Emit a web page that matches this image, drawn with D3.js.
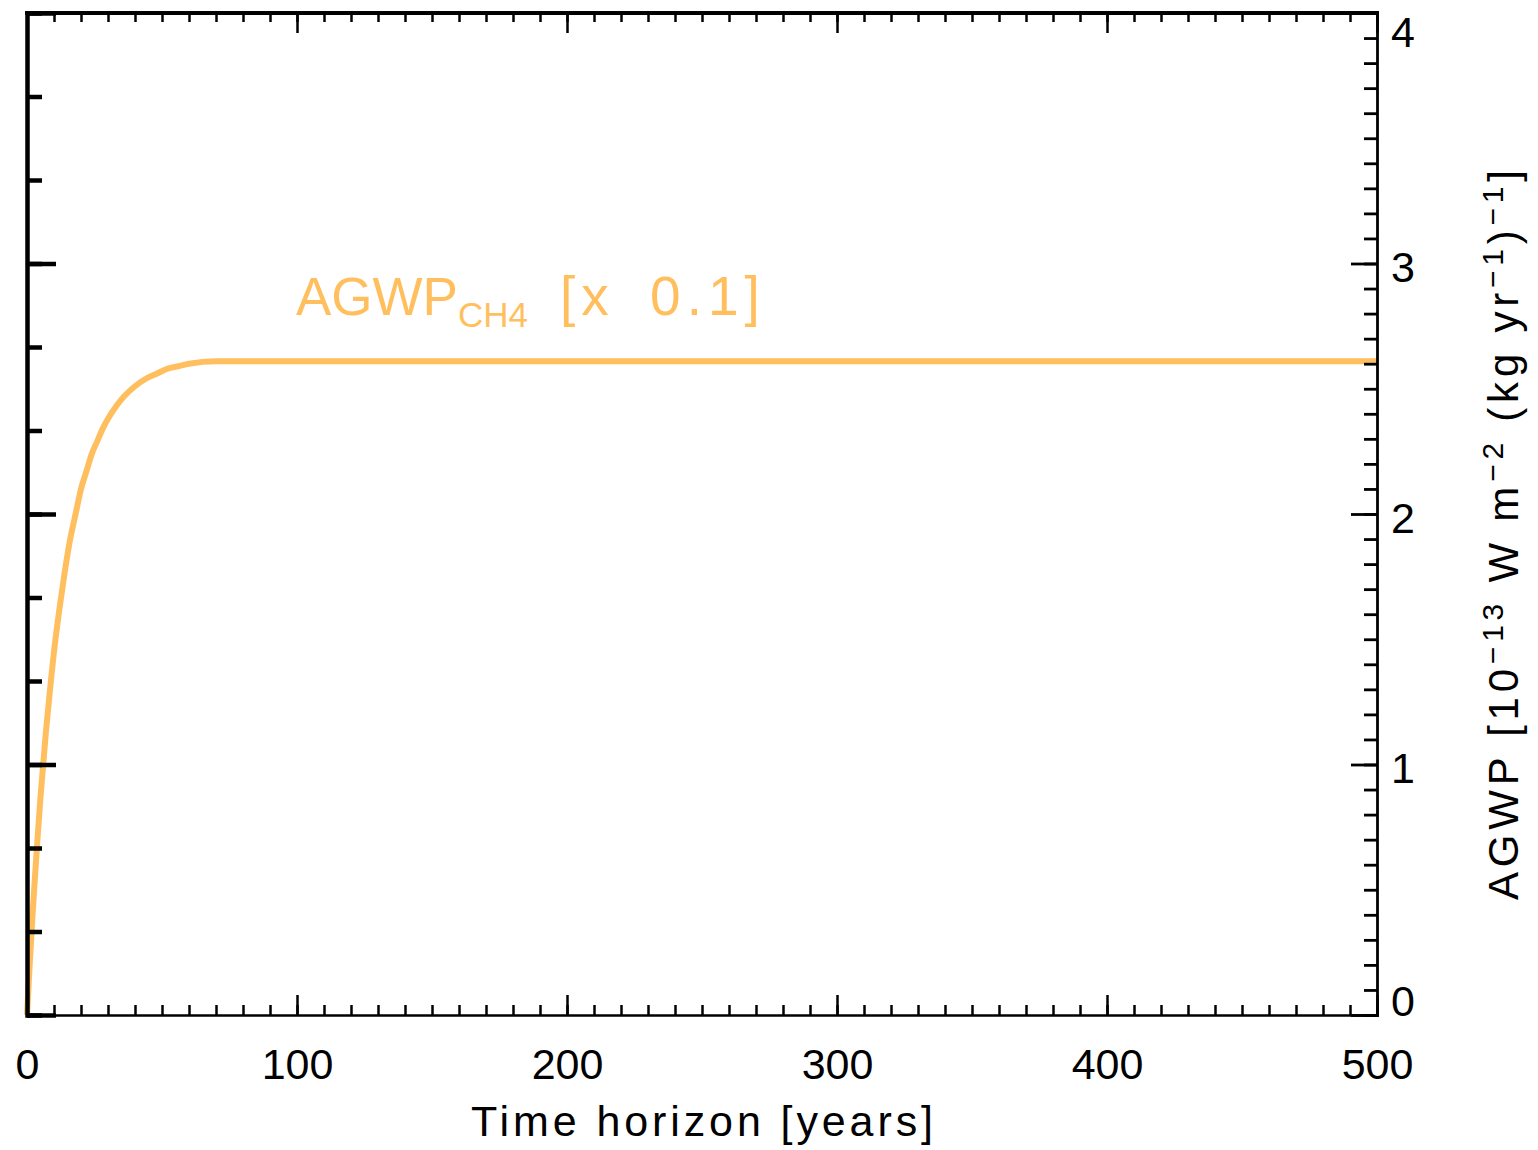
<!DOCTYPE html>
<html>
<head>
<meta charset="utf-8">
<script src="https://cdn.jsdelivr.net/npm/d3@7"></script>
<style>
    body { margin: 0; background: #ffffff; }
    .graph text { font-family: "Liberation Sans", Arial, sans-serif; }
</style>
</head>
<body>
<div class="graph"></div>
<script>
// Values: AGWP of CH4 (shown x 0.1) against time horizon
const years   = [0, 1, 2, 3, 4, 5, 6, 7, 8, 9, 10, 12, 14, 16, 18, 20, 22, 24, 26, 28,
                 30, 33, 36, 40, 44, 48, 52, 56, 60, 70, 80, 100, 200, 300, 400, 500];
const agwpCH4 = [0, 0.20, 0.39, 0.56, 0.72, 0.87, 1.00, 1.13, 1.24, 1.35, 1.45, 1.62, 1.77, 1.90, 2.00, 2.10, 2.17, 2.24, 2.29, 2.34,
                 2.38, 2.43, 2.47, 2.51, 2.54, 2.56, 2.58, 2.59, 2.60, 2.61, 2.61, 2.61, 2.61, 2.61, 2.61, 2.61];

// Axis ticks
const xMajorTicks = [0, 100, 200, 300, 400, 500];
const xMinorTicks = d3.range(0, 501, 10);
const yMajorTicks = [0, 1, 2, 3, 4];
const yRightMinorTicks = d3.range(0, 41).map(d => d / 10);
const yLeftMinorTicks = d3.range(0, 13).map(d => d / 3);

const data = years.map((y, i) => ({year: y, value: agwpCH4[i]}));

function createAgwpGraph(data) {
    // The dimensions of the graph
    const dimensions = {
        width: 1538,
        height: 1150,
        margins: {
            top: 13,
            right: 161,
            bottom: 135,
            left: 27
        }
    };
    dimensions.boundedWidth = dimensions.width
        - dimensions.margins.left
        - dimensions.margins.right;
    dimensions.boundedHeight = dimensions.height
        - dimensions.margins.top
        - dimensions.margins.bottom;

    const orange = "#ffbf5e";

    function xAccessor(d) {
        return d.year;
    }

    function yAccessor(d) {
        return d.value;
    }

    const wrapper = d3.select(".graph")
        .append("svg")
            .attr("width", dimensions.width)
            .attr("height", dimensions.height);

    const bounds = wrapper.append("g")
            .attr("transform", `translate(${dimensions.margins.left},${dimensions.margins.top})`);

    const xScale = d3.scaleLinear()
        .domain([0, 500])
        .range([0, dimensions.boundedWidth]);

    const yScale = d3.scaleLinear()
        .domain([0, 4])
        .range([dimensions.boundedHeight, 0]);

    // Draws data
    const lineGenerator = d3.line()
        .x(d => xScale(xAccessor(d)))
        .y(d => yScale(yAccessor(d)))
        .curve(d3.curveMonotoneX);

    bounds.append("path")
        .attr("d", lineGenerator(data))
        .attr("fill", "none")
        .attr("stroke", orange)
        .attr("stroke-width", 6);

    // Helper that draws one set of ticks and styles it
    function drawAxis(generator, transform, width, keepDomain) {
        const g = bounds.append("g")
            .attr("transform", transform)
            .call(generator);
        g.selectAll("line").attr("stroke", "#000").attr("stroke-width", width);
        g.select(".domain")
            .attr("stroke", "#000")
            .attr("stroke-width", width)
            .attr("stroke-linecap", "square")
            .style("display", keepDomain ? null : "none");
        return g;
    }

    const H = dimensions.boundedHeight;
    const W = dimensions.boundedWidth;

    // Bottom axis (thin, labelled)
    drawAxis(d3.axisBottom(xScale).tickValues(xMinorTicks).tickSizeInner(-10).tickSizeOuter(0).tickFormat(""),
        `translate(0,${H})`, 2.5, true);
    const xAxis = drawAxis(d3.axisBottom(xScale).tickValues(xMajorTicks).tickSizeInner(-20).tickSizeOuter(0).tickPadding(33),
        `translate(0,${H})`, 2.5, false);
    xAxis.selectAll("text")
        .attr("fill", "#000")
        .style("font-size", "43px");

    // Top axis (thick frame, unlabelled)
    drawAxis(d3.axisTop(xScale).tickValues(xMinorTicks).tickSizeInner(-9).tickSizeOuter(0).tickFormat(""),
        "translate(0,0)", 2.5, false);
    drawAxis(d3.axisTop(xScale).tickValues(xMajorTicks).tickSizeInner(-20).tickSizeOuter(0).tickFormat(""),
        "translate(0,0)", 2.5, false);
    bounds.append("line")
        .attr("x1", 0).attr("x2", W)
        .attr("y1", 0).attr("y2", 0)
        .attr("stroke", "#000")
        .attr("stroke-width", 4)
        .attr("stroke-linecap", "square");

    // Left axis (thick, unlabelled)
    drawAxis(d3.axisLeft(yScale).tickValues(yLeftMinorTicks).tickSizeInner(-15).tickSizeOuter(0).tickFormat(""),
        "translate(0,0)", 4.5, true);
    drawAxis(d3.axisLeft(yScale).tickValues(yMajorTicks).tickSizeInner(-29).tickSizeOuter(0).tickFormat(""),
        "translate(0,0)", 4.5, false);

    // Right axis (thin, labelled)
    drawAxis(d3.axisRight(yScale).tickValues(yRightMinorTicks).tickSizeInner(-13).tickSizeOuter(0).tickFormat(""),
        `translate(${W},0)`, 2.8, true);
    const yAxis = drawAxis(d3.axisRight(yScale).tickValues(yMajorTicks).tickSizeInner(-26).tickSizeOuter(0)
            .tickPadding(14).tickFormat(d3.format("d")),
        `translate(${W},0)`, 2.8, false);
    yAxis.selectAll("text")
        .attr("fill", "#000")
        .style("font-size", "43px")
        .attr("dy", d => d === 0 ? "-0.0em" : d === 4 ? "0.78em" : "0.42em");

    // Axis titles
    wrapper.append("text")
        .attr("x", dimensions.margins.left + W / 2)
        .attr("y", 1136)
        .attr("text-anchor", "middle")
        .attr("textLength", 462)
        .attr("lengthAdjust", "spacing")
        .style("font-size", "43px")
        .text("Time horizon [years]");

    const yTitle = wrapper.append("text")
        .attr("transform", "translate(1518,535) rotate(-90)")
        .attr("text-anchor", "middle")
        .attr("textLength", 730)
        .attr("lengthAdjust", "spacing")
        .style("font-size", "42px");
    const titleParts = [
        ["AGWP [10", false], ["\u221213", true], [" W m", false], ["\u22122", true],
        [" (kg yr", false], ["\u22121", true], [")", false], ["\u22121", true], ["]", false]
    ];
    let raised = false;
    titleParts.forEach(([txt, sup]) => {
        const shift = sup === raised ? 0 : (sup ? -15 : 15);
        raised = sup;
        yTitle.append("tspan")
            .attr("dy", shift)
            .style("font-size", sup ? "30px" : "42px")
            .text(txt);
    });

    // Series label
    const label = wrapper.append("text")
        .attr("x", 296)
        .attr("y", 315)
        .attr("fill", orange)
        .style("font-size", "53px");
    label.append("tspan").text("AGWP");
    label.append("tspan")
        .attr("dy", 12)
        .style("font-size", "35px")
        .text("CH4");
    label.append("tspan")
        .attr("x", 560)
        .attr("dy", -12)
        .style("font-size", "55px")
        .style("letter-spacing", "6px")
        .style("word-spacing", "14px")
        .text("[x 0.1]");
}

createAgwpGraph(data);
</script>
</body>
</html>
